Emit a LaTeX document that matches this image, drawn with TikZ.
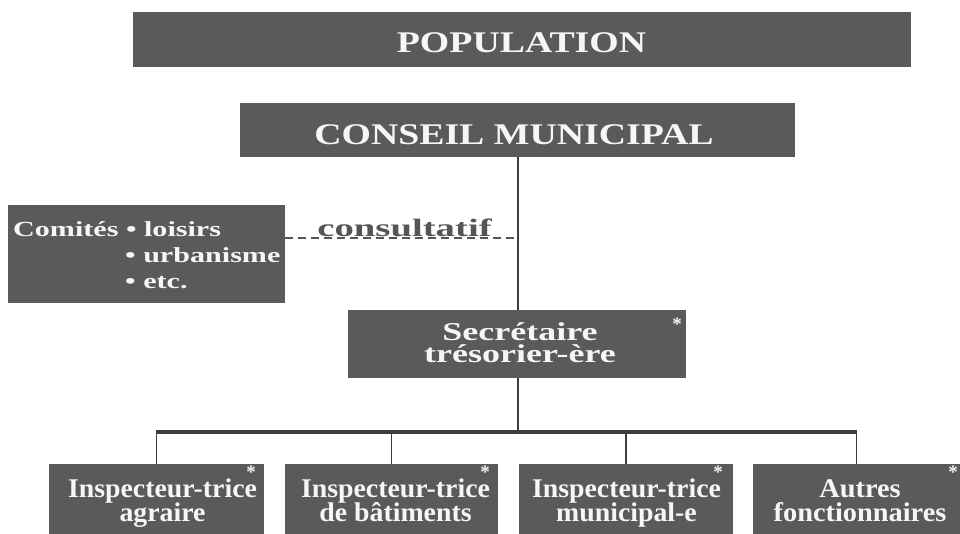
\documentclass[tikz,border=0pt]{standalone}
\usepackage{fontspec}
\usepackage{graphicx}
\setmainfont{Liberation Serif}
\definecolor{boxgray}{HTML}{5A5A5A}
\definecolor{boxtext}{HTML}{F6F6F6}
\definecolor{linegray}{HTML}{3C3C3C}
\definecolor{labgray}{HTML}{555555}
\newcommand\wtxt[3]{{\fontsize{#1}{#1}\selectfont\scalebox{#2}[1]{#3}}}
\tikzset{
  gbox/.style 2 args={fill=boxgray, draw=none, inner sep=0pt, minimum width=#1, minimum height=#2},
  lbl/.style={text=boxtext, font=\bfseries, anchor=base, inner sep=0pt},
  lblw/.style={text=boxtext, font=\bfseries, anchor=base west, inner sep=0pt},
  star/.style={text=boxtext, font=\bfseries\fontsize{19}{19}\selectfont, anchor=base, inner sep=0pt},
  link/.style={draw=linegray, line width=2pt},
  barline/.style={draw=linegray, line width=3.2pt},
  drop/.style={draw=linegray, line width=1.4pt},
  dashlink/.style={draw=labgray, line width=1.6pt, dash pattern=on 8pt off 5pt}
}
\begin{document}
\begin{tikzpicture}[x=1pt,y=-1pt]
\useasboundingbox[fill=white] (0,0) rectangle (960,534);

% boxes
\node[gbox={778}{55}] (pop) at (522,39.5) {};
\node[gbox={555}{54}] (conseil) at (517.5,130) {};
\node[gbox={277}{98}] (comites) at (146.5,254) {};
\node[gbox={338}{68}] (sec) at (517,344) {};
\node[gbox={215}{70}] (b1) at (156.5,499) {};
\node[gbox={213}{70}] (b2) at (391.5,499) {};
\node[gbox={214}{70}] (b3) at (626,499) {};
\node[gbox={207}{70}] (b4) at (856.5,499) {};

% connectors
\coordinate (bar) at (517.5,432);
\coordinate (cdash) at (517.5,238);
\draw[link] (conseil.south) -- (sec.north -| conseil.south);
\draw[link] (sec.south -| conseil.south) -- (bar);
\draw[dashlink] (comites.east |- cdash) -- (cdash);
\draw[drop] (b1.north) -- (b1.north |- bar);
\draw[drop] (b2.north) -- (b2.north |- bar);
\draw[drop] (b3.north) -- (b3.north |- bar);
\draw[drop] (b4.north) -- (b4.north |- bar);
\draw[barline] ([xshift=-0.7pt]b1.north |- bar) -- ([xshift=0.7pt]b4.north |- bar);

% texts
\node[lbl] (poptxt) at (521.5,53) {\wtxt{30}{1.26}{POPULATION}};
\node[lbl] (conseiltxt) at (514,145) {\wtxt{30}{1.26}{CONSEIL MUNICIPAL}};
\node[lbl, text=labgray] (consult) at (404.5,237) {\wtxt{25}{1.55}{consultatif}};
\node[lblw] (com1) at (13,237) {\wtxt{21.5}{1.4}{Comités • loisirs}};
\node[lblw] (com2) at (125,263) {\wtxt{21.5}{1.4}{• urbanisme}};
\node[lblw] (com3) at (125,288) {\wtxt{21.5}{1.4}{• etc.}};
\node[lbl] (sec1) at (520,340) {\wtxt{25.7}{1.4}{Secrétaire}};
\node[lbl] (sec2) at (520,362) {\wtxt{25.7}{1.4}{trésorier-ère}};
\node[lbl] (b1a) at (162.5,497) {\wtxt{27}{1.03}{Inspecteur-trice}};
\node[lbl] (b1b) at (162.5,521) {\wtxt{27}{1.03}{agraire}};
\node[lbl] (b2a) at (395.5,497) {\wtxt{27}{1.03}{Inspecteur-trice}};
\node[lbl] (b2b) at (395.5,521) {\wtxt{27}{1.03}{de bâtiments}};
\node[lbl] (b3a) at (626.5,497) {\wtxt{27}{1.03}{Inspecteur-trice}};
\node[lbl] (b3b) at (626.5,521) {\wtxt{27}{1.03}{municipal-e}};
\node[lbl] (b4a) at (860,497) {\wtxt{27}{1.05}{Autres}};
\node[lbl] (b4b) at (860,521) {\wtxt{27}{1.05}{fonctionnaires}};

% asterisks
\node[star] (s0) at (677,330) {*};
\node[star] (s1) at (251,478) {*};
\node[star] (s2) at (485,478) {*};
\node[star] (s3) at (718,478) {*};
\node[star] (s4) at (953,478) {*};
\end{tikzpicture}
\end{document}
